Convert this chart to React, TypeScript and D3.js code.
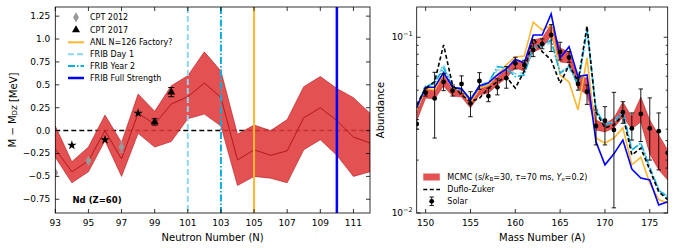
import React from 'react';
import * as d3 from 'd3';

// ---- left panel: mass model deviation for Nd (Z=60) ----
const neutronN = [93, 94, 95, 96, 97, 98, 99, 100, 101, 102, 103, 104, 105, 106, 107, 108, 109, 110, 111, 112];
const bandUpper = [0.05, -0.34, -0.18, 0.17, -0.13, 0.4, 0.21, 0.49, 0.6, 0.86, 0.65, -0.04, 0.06, 0.0, 0.12, 0.48, 0.59, 0.46, 0.36, 0.19];
const bandMid = [-0.2, -0.45, -0.33, 0.0, -0.31, 0.19, 0.07, 0.29, 0.37, 0.52, 0.36, -0.32, -0.21, -0.27, -0.22, 0.14, 0.25, 0.11, -0.07, -0.135];
const bandLower = [-0.29, -0.57, -0.45, -0.11, -0.5, -0.03, -0.18, -0.12, 0.13, 0.18, 0.05, -0.6, -0.5, -0.52, -0.57, -0.21, -0.1, -0.27, -0.5, -0.45];

const cpt2012N = [93, 95, 97];
const cpt2012Val = [-0.46, -0.33, -0.18];
const cpt2012Err = [0, 0.02, 0.055];
const cpt2017N = [99, 100];
const cpt2017Val = [0.095, 0.42];
const cpt2017Err = [0.035, 0.05];
const otherN = [94, 96, 98];
const otherVal = [-0.16, -0.1, 0.19];

const facilityNames = ['ANL N=126 Factory?', 'FRIB Day 1', 'FRIB Year 2', 'FRIB Full Strength'];
const facilityReachN = [105, 101, 103, 110];

// ---- right panel: abundances ----
const massA = [149, 150, 151, 152, 153, 154, 155, 156, 157, 158, 159, 160, 161, 162, 163, 164, 165, 166, 167, 168, 169, 170, 171, 172, 173, 174, 175, 176, 177];
const mcmcUpper = [0.0376, 0.0508, 0.0501, 0.061, 0.0514, 0.0514, 0.0446, 0.0521, 0.0535, 0.0594, 0.0652, 0.0743, 0.0723, 0.0965, 0.099, 0.119, 0.0869, 0.0825, 0.0594, 0.0587, 0.0338, 0.0321, 0.0347, 0.0428, 0.0352, 0.0457, 0.0338, 0.0278, 0.0228];
const mcmcLower = [0.0334, 0.0451, 0.0446, 0.0528, 0.0463, 0.0457, 0.0396, 0.047, 0.0482, 0.0535, 0.0587, 0.0669, 0.0643, 0.0825, 0.0869, 0.1017, 0.0723, 0.0714, 0.0514, 0.047, 0.0297, 0.0289, 0.0305, 0.0352, 0.0301, 0.033, 0.0217, 0.0176, 0.0154];
const dufloZuker = [0.0412, 0.0513, 0.0559, 0.0904, 0.0535, 0.047, 0.043, 0.045, 0.0513, 0.0559, 0.0594, 0.0514, 0.0643, 0.099, 0.0828, 0.0743, 0.0547, 0.0696, 0.0559, 0.116, 0.0376, 0.0305, 0.0317, 0.0361, 0.0214, 0.0234, 0.0176, 0.0132, 0.0119];
const anlAbund = [0.0386, 0.0513, 0.0501, 0.0624, 0.0513, 0.0501, 0.0421, 0.0513, 0.0535, 0.061, 0.0696, 0.0773, 0.0783, 0.122, 0.11, 0.1175, 0.061, 0.0556, 0.0386, 0.0763, 0.0267, 0.025, 0.0267, 0.0305, 0.0188, 0.0208, 0.0148, 0.0119, 0.0114];
const day1Abund = [0.04, 0.053, 0.055, 0.07, 0.053, 0.051, 0.045, 0.053, 0.056, 0.065, 0.066, 0.062, 0.063, 0.086, 0.088, 0.094, 0.063, 0.069, 0.054, 0.112, 0.039, 0.032, 0.033, 0.038, 0.023, 0.025, 0.0183, 0.0137, 0.0124];
const year2Abund = [0.0396, 0.0524, 0.0547, 0.0667, 0.0524, 0.0501, 0.044, 0.0524, 0.0547, 0.068, 0.0669, 0.0597, 0.061, 0.0884, 0.0904, 0.0965, 0.0624, 0.068, 0.0535, 0.11, 0.0386, 0.0317, 0.033, 0.0376, 0.0228, 0.025, 0.0181, 0.0135, 0.0122];
const fullAbund = [0.04, 0.052, 0.052, 0.063, 0.052, 0.051, 0.044, 0.053, 0.055, 0.061, 0.066, 0.075, 0.0714, 0.103, 0.103, 0.1357, 0.0763, 0.0884, 0.0597, 0.061, 0.0254, 0.0188, 0.0217, 0.026, 0.0178, 0.0158, 0.0154, 0.0111, 0.0116];
const solar = [0.0321, 0.0484, 0.0449, 0.0557, 0.0497, 0.0542, 0.0421, 0.0564, 0.0463, 0.0519, 0.0585, 0.0711, 0.0696, 0.0847, 0.0916, 0.103, 0.0825, 0.0767, 0.0542, 0.049, 0.0313, 0.0335, 0.0297, 0.0375, 0.0303, 0.0366, 0.0303, 0.0292, 0.022];
const solarLo = [0.030, 0.0463, 0.0267, 0.0497, 0.0463, 0.0476, 0.0353, 0.0506, 0.043, 0.047, 0.0513, 0.066, 0.066, 0.0776, 0.086, 0.083, 0.0743, 0.072, 0.05, 0.0415, 0.0244, 0.0244, 0.0107, 0.0324, 0.026, 0.0255, 0.02, 0.0176, 0.018];
const solarHi = [0.034, 0.0513, 0.0632, 0.062, 0.0535, 0.0603, 0.049, 0.0629, 0.0513, 0.058, 0.0681, 0.077, 0.074, 0.0924, 0.098, 0.118, 0.0937, 0.083, 0.059, 0.0535, 0.0386, 0.0403, 0.0486, 0.043, 0.0371, 0.0508, 0.0452, 0.0371, 0.0258];

const FONT = 'DejaVu Sans, Liberation Sans, sans-serif';
const RED_FILL = '#e0393b';
const RED_LINE = '#b01a1c';
const facilityStyle = [
  { color: '#ffb630', dash: 'none', w: 2 },
  { color: '#8dd6ef', dash: '6,3', w: 2 },
  { color: '#0aaee0', dash: '7,2,1.5,2', w: 2 },
  { color: '#0000ff', dash: 'none', w: 2.5 },
];

const L = { x0: 55.3, x1: 370, y0: 7, y1: 213 };
const R = { x0: 416.7, x1: 667.7, y0: 7, y1: 213 };

const fmtL = (v: number) => {
  const s = Math.abs(v * 2 - Math.round(v * 2)) < 1e-9 ? v.toFixed(1) : v.toFixed(2);
  return s.replace('-', '\u2212');
};

export default function App() {
  const xL = d3.scaleLinear().domain([93, 112]).range([L.x0, L.x1]);
  const yL = d3.scaleLinear().domain([-0.9, 1.35]).range([L.y1, L.y0]);
  const xR = d3.scaleLinear().domain([149, 177]).range([R.x0, R.x1]);
  const yR = d3.scaleLog().domain([0.01, 0.1487]).range([R.y1, R.y0]);

  const areaL = d3
    .area<number>()
    .x((_, i) => xL(neutronN[i]))
    .y0((_, i) => yL(bandLower[i]))
    .y1((_, i) => yL(bandUpper[i]));
  const lineMidL = d3
    .line<number>()
    .x((_, i) => xL(neutronN[i]))
    .y((d) => yL(d));

  const areaR = d3
    .area<number>()
    .x((_, i) => xR(massA[i]))
    .y0((_, i) => yR(mcmcLower[i]))
    .y1((_, i) => yR(mcmcUpper[i]));
  const lineR = d3
    .line<number>()
    .x((_, i) => xR(massA[i]))
    .y((d) => yR(d));

  const star = d3.symbol().type(d3.symbolStar).size(28)() as string;
  const tri = d3.symbol().type(d3.symbolTriangle).size(28)() as string;
  const cross = d3.symbol().type(d3.symbolDiamond).size(30)() as string;

  const xTicksL = [93, 95, 97, 99, 101, 103, 105, 107, 109, 111];
  const yTicksL = [-0.75, -0.5, -0.25, 0, 0.25, 0.5, 0.75, 1.0, 1.25];
  const xTicksR = [150, 155, 160, 165, 170, 175];
  const minorR = [0.02, 0.03, 0.04, 0.05, 0.06, 0.07, 0.08, 0.09];

  const rightLines = [
    { data: anlAbund, ...facilityStyle[0], w: 1.6 },
    { data: day1Abund, ...facilityStyle[1], w: 1.6 },
    { data: year2Abund, ...facilityStyle[2], w: 1.6 },
    { data: fullAbund, ...facilityStyle[3], w: 1.6 },
  ];

  const tick = { stroke: '#000', strokeWidth: 0.8 };

  return (
    <div style={{ position: 'absolute', left: 0, top: 0 }}>
      <svg width={675} height={248} style={{ display: 'block', fontFamily: FONT }}>
        <rect width={675} height={248} fill="#fff" />
        <defs>
          <clipPath id="clipL">
            <rect x={L.x0} y={L.y0} width={L.x1 - L.x0} height={L.y1 - L.y0} />
          </clipPath>
          <clipPath id="clipR">
            <rect x={R.x0} y={R.y0} width={R.x1 - R.x0} height={R.y1 - R.y0} />
          </clipPath>
        </defs>

        {/* ===== left panel ===== */}
        <g clipPath="url(#clipL)">
          <line x1={L.x0} x2={L.x1} y1={yL(0)} y2={yL(0)} stroke="#000" strokeWidth={1.5} strokeDasharray="5,3" />
          <path d={areaL(bandMid) as string} fill={RED_FILL} fillOpacity={0.88} stroke={RED_LINE} strokeWidth={0.6} />
          <path d={lineMidL(bandMid) as string} fill="none" stroke={RED_LINE} strokeWidth={1} />
          {facilityReachN.map((n, i) => (
            <line
              key={i}
              x1={xL(n)}
              x2={xL(n)}
              y1={L.y0}
              y2={L.y1}
              stroke={facilityStyle[i].color}
              strokeWidth={facilityStyle[i].w}
              strokeDasharray={facilityStyle[i].dash}
            />
          ))}
          {cpt2012N.map((n, i) => (
            <g key={'g' + i} transform={`translate(${xL(n)},${yL(cpt2012Val[i])})`}>
              {cpt2012Err[i] > 0.03 && (
                <g stroke="#999" strokeWidth={1}>
                  <line y1={-cpt2012Err[i] * 91.6} y2={cpt2012Err[i] * 91.6} />
                  <line x1={-2.5} x2={2.5} y1={-cpt2012Err[i] * 91.6} y2={-cpt2012Err[i] * 91.6} />
                  <line x1={-2.5} x2={2.5} y1={cpt2012Err[i] * 91.6} y2={cpt2012Err[i] * 91.6} />
                </g>
              )}
              <path d={cross} fill="#999" />
            </g>
          ))}
          {otherN.map((n, i) => (
            <path key={'o' + i} d={star} fill="#000" transform={`translate(${xL(n)},${yL(otherVal[i])})`} />
          ))}
          {cpt2017N.map((n, i) => {
            const yt = yL(cpt2017Val[i] + cpt2017Err[i]);
            const yb = yL(cpt2017Val[i] - cpt2017Err[i]);
            const x = xL(n);
            return (
              <g key={'t' + i}>
                <g stroke="#000" strokeWidth={1}>
                  <line x1={x} x2={x} y1={yt} y2={yb} />
                  <line x1={x - 3} x2={x + 3} y1={yt} y2={yt} />
                  <line x1={x - 3} x2={x + 3} y1={yb} y2={yb} />
                </g>
                <path d={tri} fill="#000" transform={`translate(${x},${yL(cpt2017Val[i])})`} />
              </g>
            );
          })}
        </g>
        <rect x={L.x0} y={L.y0} width={L.x1 - L.x0} height={L.y1 - L.y0} fill="none" stroke="#000" strokeWidth={0.8} />
        {xTicksL.map((t) => (
          <g key={'xl' + t}>
            <line x1={xL(t)} x2={xL(t)} y1={L.y1} y2={L.y1 - 4} {...tick} />
            <line x1={xL(t)} x2={xL(t)} y1={L.y0} y2={L.y0 + 4} {...tick} />
            <text x={xL(t)} y={223} fontSize={9} textAnchor="middle" dominantBaseline="central">
              {t}
            </text>
          </g>
        ))}
        {yTicksL.map((t) => (
          <g key={'yl' + t}>
            <line x1={L.x0} x2={L.x0 + 4} y1={yL(t)} y2={yL(t)} {...tick} />
            <line x1={L.x1} x2={L.x1 - 4} y1={yL(t)} y2={yL(t)} {...tick} />
            <text x={L.x0 - 5} y={yL(t)} fontSize={9} textAnchor="end" dominantBaseline="central">
              {fmtL(t)}
            </text>
          </g>
        ))}
        <text x={(L.x0 + L.x1) / 2} y={237} fontSize={10} textAnchor="middle" dominantBaseline="central">
          Neutron Number (N)
        </text>
        <text transform={`translate(12.5,${(L.y0 + L.y1) / 2}) rotate(-90)`} fontSize={10} textAnchor="middle" dominantBaseline="central">
          M − M<tspan fontSize={7} dy={2.5}>DZ</tspan>
          <tspan dy={-2.5}> [MeV]</tspan>
        </text>
        <text x={72.5} y={200} fontSize={8.5} fontWeight="bold" dominantBaseline="central">
          Nd (Z=60)
        </text>

        {/* left legend */}
        <g fontSize={8}>
          <path d={cross} fill="#999" transform="translate(76,17.3)" />
          <text x={90} y={17.3} dominantBaseline="central">CPT 2012</text>
          <path d={tri} fill="#000" transform="translate(76,30)" />
          <text x={90} y={30} dominantBaseline="central">CPT 2017</text>
          {facilityNames.map((name, i) => {
            const y = 42.3 + i * 11.9;
            return (
              <g key={'lg' + i}>
                <line
                  x1={68}
                  x2={84}
                  y1={y}
                  y2={y}
                  stroke={facilityStyle[i].color}
                  strokeWidth={facilityStyle[i].w}
                  strokeDasharray={facilityStyle[i].dash}
                />
                <text x={90} y={y} dominantBaseline="central">{name}</text>
              </g>
            );
          })}
        </g>

        {/* ===== right panel ===== */}
        <g clipPath="url(#clipR)">
          <path d={areaR(mcmcUpper) as string} fill={RED_FILL} fillOpacity={0.88} stroke={RED_LINE} strokeWidth={0.5} />
          {rightLines.map((l, i) => (
            <path
              key={'rl' + i}
              d={lineR(l.data) as string}
              fill="none"
              stroke={l.color}
              strokeWidth={l.w}
              strokeDasharray={l.dash}
            />
          ))}
          <path d={lineR(dufloZuker) as string} fill="none" stroke="#000" strokeWidth={1.6} strokeDasharray="4,2.5" />
          {massA.map((a, i) => {
            const x = xR(a);
            const yt = yR(solarHi[i]);
            const yb = yR(solarLo[i]);
            return (
              <g key={'s' + i} stroke="#000" strokeWidth={0.9}>
                <line x1={x} x2={x} y1={yt} y2={yb} />
                <line x1={x - 2.2} x2={x + 2.2} y1={yt} y2={yt} />
                <line x1={x - 2.2} x2={x + 2.2} y1={yb} y2={yb} />
                <circle cx={x} cy={yR(solar[i])} r={2.4} fill="#000" stroke="none" />
              </g>
            );
          })}
        </g>
        <rect x={R.x0} y={R.y0} width={R.x1 - R.x0} height={R.y1 - R.y0} fill="none" stroke="#000" strokeWidth={0.8} />
        {xTicksR.map((t) => (
          <g key={'xr' + t}>
            <line x1={xR(t)} x2={xR(t)} y1={R.y1} y2={R.y1 - 4} {...tick} />
            <line x1={xR(t)} x2={xR(t)} y1={R.y0} y2={R.y0 + 4} {...tick} />
            <text x={xR(t)} y={223} fontSize={9} textAnchor="middle" dominantBaseline="central">
              {t}
            </text>
          </g>
        ))}
        {[0.1, 0.01].map((t) => (
          <g key={'yr' + t}>
            <line x1={R.x0} x2={R.x0 + 4} y1={yR(t)} y2={yR(t)} {...tick} />
            <line x1={R.x1} x2={R.x1 - 4} y1={yR(t)} y2={yR(t)} {...tick} />
            <text x={R.x0 - 4} y={yR(t) + 3} fontSize={9} textAnchor="end">
              10<tspan fontSize={6.5} dy={-4.5}>{t === 0.1 ? '\u22121' : '\u22122'}</tspan>
            </text>
          </g>
        ))}
        {minorR.map((t) => (
          <g key={'mr' + t}>
            <line x1={R.x0} x2={R.x0 + 2} y1={yR(t)} y2={yR(t)} {...tick} />
            <line x1={R.x1} x2={R.x1 - 2} y1={yR(t)} y2={yR(t)} {...tick} />
          </g>
        ))}
        <text x={(R.x0 + R.x1) / 2} y={237} fontSize={10} textAnchor="middle" dominantBaseline="central">
          Mass Number (A)
        </text>
        <text transform={`translate(380,${(R.y0 + R.y1) / 2}) rotate(-90)`} fontSize={10} textAnchor="middle" dominantBaseline="central">
          Abundance
        </text>

        {/* right legend */}
        <g fontSize={8}>
          <rect x={423.3} y={173.5} width={16.5} height={7} fill={RED_FILL} fillOpacity={0.88} />
          <text x={447.3} y={177.3} dominantBaseline="central">
            MCMC (s/<tspan fontStyle="italic">k</tspan>
            <tspan fontSize={5.5} dy={1.8}>B</tspan>
            <tspan dy={-1.8}>=30, </tspan>
            <tspan fontStyle="italic">τ</tspan>=70 ms, <tspan fontStyle="italic">Y</tspan>
            <tspan fontSize={5.5} dy={1.8}>e</tspan>
            <tspan dy={-1.8}>=0.2)</tspan>
          </text>
          <line x1={423.3} x2={440} y1={189.5} y2={189.5} stroke="#000" strokeWidth={1.6} strokeDasharray="4,2.5" />
          <text x={447.3} y={189.5} dominantBaseline="central">Duflo-Zuker</text>
          <g stroke="#000" strokeWidth={0.9}>
            <line x1={431.7} x2={431.7} y1={197} y2={205.5} />
            <line x1={429.5} x2={433.9} y1={197} y2={197} />
            <line x1={429.5} x2={433.9} y1={205.5} y2={205.5} />
          </g>
          <circle cx={431.7} cy={201.3} r={2.4} fill="#000" />
          <text x={447.3} y={201.3} dominantBaseline="central">Solar</text>
        </g>
      </svg>
    </div>
  );
}
